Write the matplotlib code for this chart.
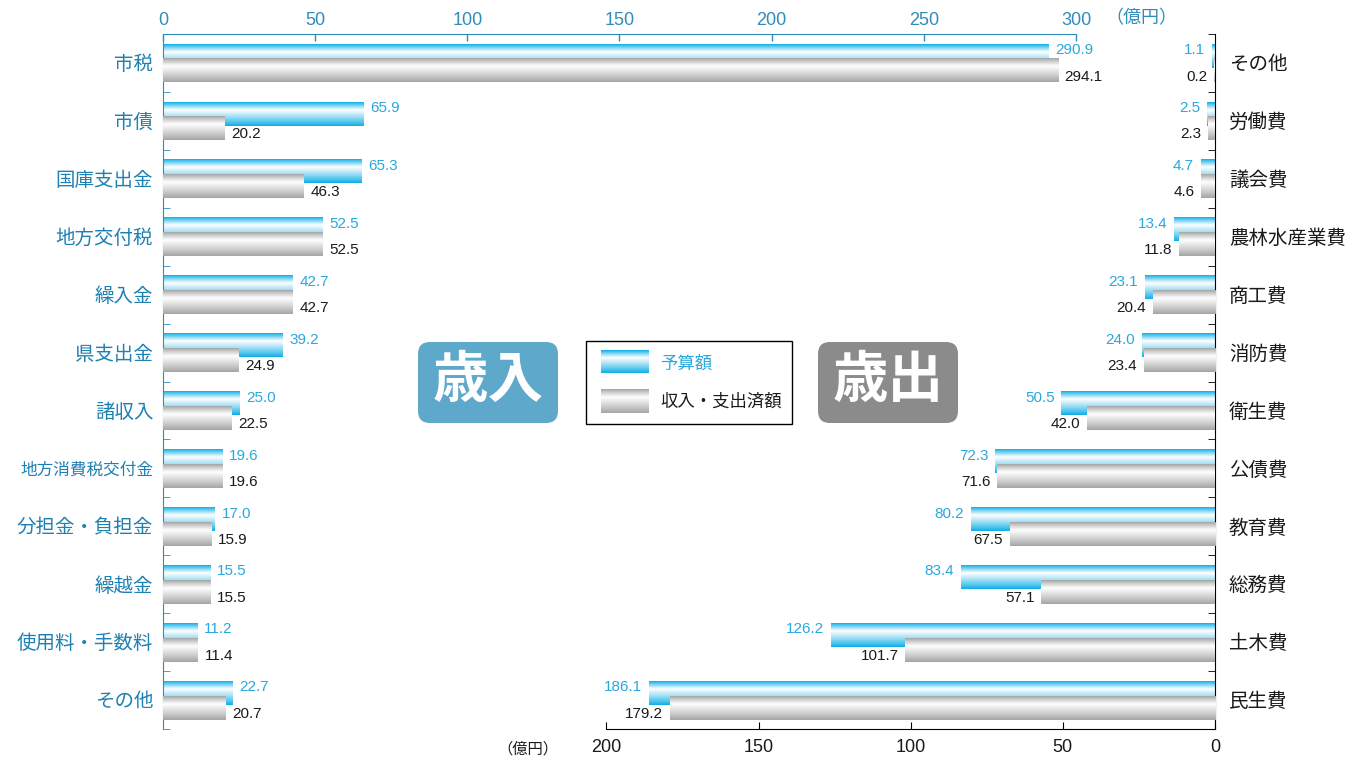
import numpy as np
import matplotlib
matplotlib.use('Agg')
import matplotlib.pyplot as plt
from matplotlib.patches import FancyBboxPatch, Rectangle
from matplotlib.colors import to_rgb

plt.rcParams['font.family'] = ['Liberation Sans', 'Noto Sans CJK JP', 'DejaVu Sans']

# ---------------- data ----------------
rev_cats = ['市税', '市債', '国庫支出金', '地方交付税', '繰入金', '県支出金', '諸収入',
            '地方消費税交付金', '分担金・負担金', '繰越金', '使用料・手数料', 'その他']
rev_budget = [290.9, 65.9, 65.3, 52.5, 42.7, 39.2, 25.0, 19.6, 17.0, 15.5, 11.2, 22.7]
rev_actual = [294.1, 20.2, 46.3, 52.5, 42.7, 24.9, 22.5, 19.6, 15.9, 15.5, 11.4, 20.7]

exp_cats = ['その他', '労働費', '議会費', '農林水産業費', '商工費', '消防費', '衛生費',
            '公債費', '教育費', '総務費', '土木費', '民生費']
exp_budget = [1.1, 2.5, 4.7, 13.4, 23.1, 24.0, 50.5, 72.3, 80.2, 83.4, 126.2, 186.1]
exp_actual = [0.2, 2.3, 4.6, 11.8, 20.4, 23.4, 42.0, 71.6, 67.5, 57.1, 101.7, 179.2]

rev_ticks = [0, 50, 100, 150, 200, 250, 300]
exp_ticks = [0, 50, 100, 150, 200]

legend_labels = ['予算額', '収入・支出済額']
unit_label = '（億円）'

# ---------------- style ----------------
AX_BLUE = '#2f8cbc'
CAT_BLUE = '#1f80b2'
VAL_BLUE = '#2aa8de'
BAR_BLUE = '#0aaee6'
BAR_GRAY = '#a3a3a3'
TXT_DARK = '#1a1a1a'

W, H = 1355, 762
fig = plt.figure(figsize=(W / 100, H / 100), dpi=100)
L, R, T, B = 163, 1215, 34, 729
rect = [L / W, 1 - B / H, (R - L) / W, (B - T) / H]
ax1 = fig.add_axes(rect)
ax2 = fig.add_axes(rect)
ax2.patch.set_visible(False)

XMAX = (R - L) / 3.0433
n = len(rev_cats)
yy = np.arange(n)
BH = 0.41
OFF_B = -0.124
OFF_G = 0.132


def gradient(base, m=96):
    t = np.linspace(0, 1, m)
    w = np.where(t < 0.33, t / 0.33, 1 - (t - 0.33) / 0.67)
    w = np.clip(w, 0, 1) ** 0.9
    c = np.array(to_rgb(base))
    img = c[None, :] * (1 - w[:, None]) + w[:, None]
    return img[:, None, :]


G_BLUE = gradient(BAR_BLUE)
G_GRAY = gradient(BAR_GRAY)


def gbar(ax, val, yc, img, z):
    ax.imshow(img, extent=(0, val, yc + BH / 2, yc - BH / 2), aspect='auto',
              interpolation='bilinear', zorder=z)


for i in range(n):
    gbar(ax1, rev_budget[i], yy[i] + OFF_B, G_BLUE, 2)
    gbar(ax1, rev_actual[i], yy[i] + OFF_G, G_GRAY, 3)
    ax1.text(rev_budget[i] + 2.2, yy[i] - 0.22, f'{rev_budget[i]:.1f}', color=VAL_BLUE,
             fontsize=11, ha='left', va='center', zorder=5)
    ax1.text(rev_actual[i] + 2.2, yy[i] + 0.235, f'{rev_actual[i]:.1f}', color=TXT_DARK,
             fontsize=11, ha='left', va='center', zorder=5)

    gbar(ax2, exp_budget[i], yy[i] + OFF_B, G_BLUE, 2)
    gbar(ax2, exp_actual[i], yy[i] + OFF_G, G_GRAY, 3)
    ax2.text(exp_budget[i] + 2.2, yy[i] - 0.22, f'{exp_budget[i]:.1f}', color=VAL_BLUE,
             fontsize=11, ha='right', va='center', zorder=5)
    ax2.text(exp_actual[i] + 2.2, yy[i] + 0.235, f'{exp_actual[i]:.1f}', color=TXT_DARK,
             fontsize=11, ha='right', va='center', zorder=5)

# ---- revenue axes ----
ax1.set_xlim(0, XMAX)
ax1.set_ylim(n - 0.5, -0.5)
ax1.xaxis.tick_top()
ax1.set_xticks(rev_ticks)
ax1.set_xticklabels([str(v) for v in rev_ticks])
ax1.tick_params(axis='x', direction='in', length=5, color=AX_BLUE, labelcolor=AX_BLUE,
                labelsize=13, pad=3.5, width=1)
ax1.spines['top'].set_bounds(0, 300)
ax1.spines['top'].set_color(AX_BLUE)
ax1.spines['left'].set_color(AX_BLUE)
ax1.spines['bottom'].set_visible(False)
ax1.spines['right'].set_visible(False)
ax1.set_yticks(yy)
ax1.set_yticklabels(rev_cats)
ax1.tick_params(axis='y', which='major', length=0, pad=7, labelsize=14, labelcolor=CAT_BLUE)
ax1.set_yticks(np.arange(n + 1) - 0.5, minor=True)
ax1.tick_params(axis='y', which='minor', direction='in', length=5, color=AX_BLUE)
ax1.get_yticklabels()[7].set_fontsize(12)

# ---- expenditure axes ----
ax2.set_xlim(XMAX, 0)
ax2.set_ylim(n - 0.5, -0.5)
ax2.set_xticks(exp_ticks)
ax2.set_xticklabels([str(v) for v in exp_ticks])
ax2.tick_params(axis='x', direction='in', length=5, color='black', labelcolor=TXT_DARK,
                labelsize=13, pad=7)
ax2.spines['bottom'].set_bounds(0, 200)
ax2.spines['left'].set_visible(False)
ax2.spines['top'].set_visible(False)
ax2.yaxis.tick_right()
ax2.set_yticks(yy)
ax2.set_yticklabels(exp_cats)
ax2.tick_params(axis='y', which='major', length=0, pad=10, labelsize=14, labelcolor=TXT_DARK)
ax2.set_yticks(np.arange(n + 1) - 0.5, minor=True)
ax2.tick_params(axis='y', which='minor', direction='in', length=5, color='black')

# ---- overlay in pixel coordinates ----
ov = fig.add_axes([0, 0, 1, 1], zorder=10)
ov.patch.set_visible(False)
ov.axis('off')

ov.text(1141, 19, unit_label, fontsize=13, color=AX_BLUE, ha='center', va='center')
ov.text(528, 749, unit_label, fontsize=11, color=TXT_DARK, ha='center', va='center')

# badges
for x0, txt, col in [(418, '歳入', '#5ea9cb'), (818, '歳出', '#8b8b8b')]:
    ov.add_patch(FancyBboxPatch((x0 + 12, 342 + 12), 140 - 24, 81 - 24,
                                boxstyle='round,pad=12', fc=col, ec='none'))
    ov.text(x0 + 70, 383, txt, fontsize=40, color='white', fontweight='bold',
            ha='center', va='center')

# legend
ov.add_patch(Rectangle((586, 341), 206, 83, fc='white', ec='black', lw=1, zorder=1))
ov.imshow(G_BLUE, extent=(601, 649, 373, 350), aspect='auto', interpolation='bilinear', zorder=3)
ov.imshow(G_GRAY, extent=(601, 649, 413, 389), aspect='auto', interpolation='bilinear', zorder=3)
ov.text(660, 364, legend_labels[0], fontsize=12.5, color=VAL_BLUE, ha='left', va='center', zorder=4)
ov.text(660, 402, legend_labels[1], fontsize=12.5, color=TXT_DARK, ha='left', va='center', zorder=4)

ov.set_xlim(0, W)
ov.set_ylim(H, 0)

fig.savefig('out.png', dpi=100)
